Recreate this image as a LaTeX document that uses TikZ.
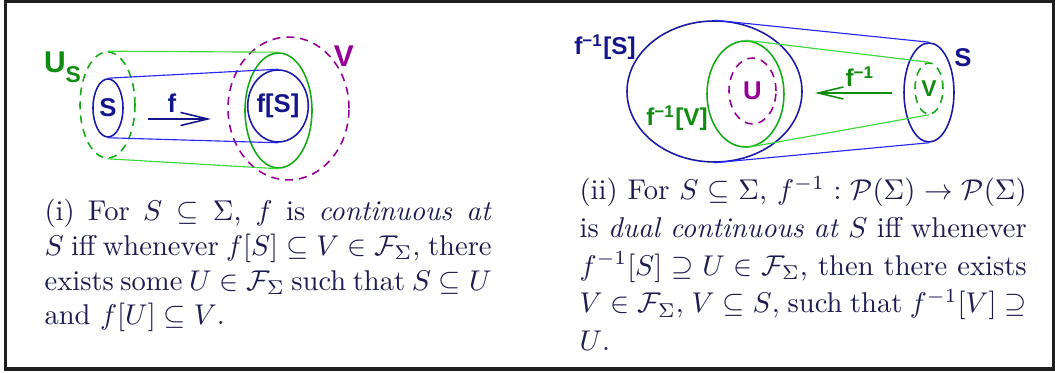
\documentclass[tikz,border=0pt]{standalone}
\usepackage{fontspec}
\setsansfont{Liberation Sans}
\usetikzlibrary{shapes.geometric,arrows.meta}
\definecolor{navytext}{RGB}{28,28,80}
\definecolor{labnavy}{RGB}{20,20,140}
\definecolor{setblue}{RGB}{25,25,170}
\definecolor{lineblue}{RGB}{40,40,250}
\definecolor{setgreen}{RGB}{20,170,20}
\definecolor{linegreen}{RGB}{60,215,60}
\definecolor{labgreen}{RGB}{15,140,15}
\definecolor{setpurple}{RGB}{150,0,150}
\definecolor{framegray}{RGB}{30,30,30}
\begin{document}
\begin{tikzpicture}[x=0.35pt,y=-0.35pt,
  set/.style={ellipse,draw,inner sep=0pt,line width=0.55pt},
  dashset/.style={set,dash pattern=on 2.8pt off 2.1pt},
  lab/.style={inner sep=0pt,font=\sffamily\bfseries\fontsize{8.5}{10}\selectfont},
  tie/.style={line width=0.4pt},
  textblock/.style={anchor=north west,inner sep=0pt,text width=156.5pt,align=justify,text=navytext}]
\useasboundingbox (0,0) rectangle (1055,373);
\draw[framegray,line width=1.1pt] (5.3,1.3) rectangle (1053.5,369);
% (i)
\node[dashset,setgreen,minimum width=19.25pt,minimum height=37.1pt] (US) at (107.5,105) {};
\node[set,setblue,minimum width=10.5pt,minimum height=20.3pt,lab,text=labnavy,font=\sffamily\bfseries\fontsize{9}{10}\selectfont] (S) at (108,108) {S};
\node[dashset,setpurple,minimum width=42.35pt,minimum height=50pt] (V) at (288.5,108.5) {};
\node[set,setgreen,minimum width=23.45pt,minimum height=40.25pt] (FV) at (278.5,110.5) {};
\node[set,setblue,minimum width=18.2pt,minimum height=25.2pt,lab,text=labnavy,font=\sffamily\bfseries\fontsize{9}{10}\selectfont] (FS) at (278,106) {f[S]};
\draw[tie,lineblue] (S.north) -- (FS.north);
\draw[tie,lineblue] (S.south) -- (FS.south);
\draw[tie,linegreen] (US.north) -- (FV.north);
\draw[tie,linegreen] (US.south) -- (FV.south);
\node[lab,labgreen,font=\sffamily\bfseries\fontsize{10.5}{12}\selectfont] (USlab) at (62.5,67) {U\raisebox{-3.4pt}{\fontsize{8}{9}\selectfont S}};
\node[lab,setpurple,font=\sffamily\bfseries\fontsize{10.5}{12}\selectfont] (Vlab) at (344,56) {V};
\node[lab,labnavy,font=\sffamily\bfseries\fontsize{9}{10}\selectfont] (flab) at (172,103) {f};
\coordinate (fa) at (148,119);
\coordinate (fb) at (211,119);
\draw[labnavy,line width=0.55pt,-{Straight Barb[length=9.5pt,width=4.6pt]}] (fa) -- (fb);
\node[textblock,font=\fontsize{10}{12.1}\selectfont] (capi) at (44,199) {(i) For $S\subseteq\Sigma$, $f$ is \emph{continuous at}\linebreak $S$ iff whenever $f[S]\subseteq V\in\mathcal{F}_\Sigma$, there\linebreak exists some $U\in\mathcal{F}_\Sigma$ such that $S\subseteq U$\linebreak and $f[U]\subseteq V$.};
% (ii)
\node[set,setblue,minimum width=61.25pt,minimum height=49.35pt] (IS) at (714.5,91.5) {};
\node[set,setgreen,minimum width=26.95pt,minimum height=37.1pt] (IV) at (745.5,94) {};
\node[dashset,setpurple,minimum width=16.45pt,minimum height=23.1pt,lab,text=setpurple,font=\sffamily\bfseries\fontsize{9}{10}\selectfont] (U) at (752.5,91) {U};
\node[set,setblue,minimum width=17.5pt,minimum height=34.65pt] (S2) at (929,92.5) {};
\node[dashset,setgreen,minimum width=9.8pt,minimum height=17.85pt,lab,text=labgreen,font=\sffamily\bfseries\fontsize{8}{9}\selectfont] (V2) at (929,88.5) {V};
\draw[tie,lineblue] (IS.north) -- (S2.north);
\draw[tie,lineblue] (IS.south) -- (S2.south);
\draw[tie,linegreen] (IV.north) -- (V2.north);
\draw[tie,linegreen] (IV.south) -- (V2.south);
\node[lab,labnavy] (ISlab) at (605,47) {f\textsuperscript{−1}[S]};
\node[lab,labgreen] (IVlab) at (677,118) {f\textsuperscript{−1}[V]};
\node[lab,labnavy,font=\sffamily\bfseries\fontsize{9}{10}\selectfont] (S2lab) at (963,58) {S};
\node[lab,labgreen] (finvlab) at (860,77) {f\textsuperscript{−1}};
\coordinate (ga) at (892,93);
\coordinate (gb) at (815,93);
\draw[labgreen,line width=0.55pt,-{Straight Barb[length=8.75pt,width=4.2pt]}] (ga) -- (gb);
\node[textblock,font=\fontsize{10}{13.2}\selectfont] (capii) at (579,176) {(ii) For $S\subseteq\Sigma$, $f^{-1}:\mathcal{P}(\Sigma)\rightarrow\mathcal{P}(\Sigma)$\linebreak is \emph{dual continuous at} $S$ iff whenever\linebreak $f^{-1}[S]\supseteq U\in\mathcal{F}_\Sigma$, then there exists\linebreak $V\in\mathcal{F}_\Sigma$, $V\subseteq S$, such that $f^{-1}[V]\supseteq$\linebreak $U$.};
\end{tikzpicture}
\end{document}
